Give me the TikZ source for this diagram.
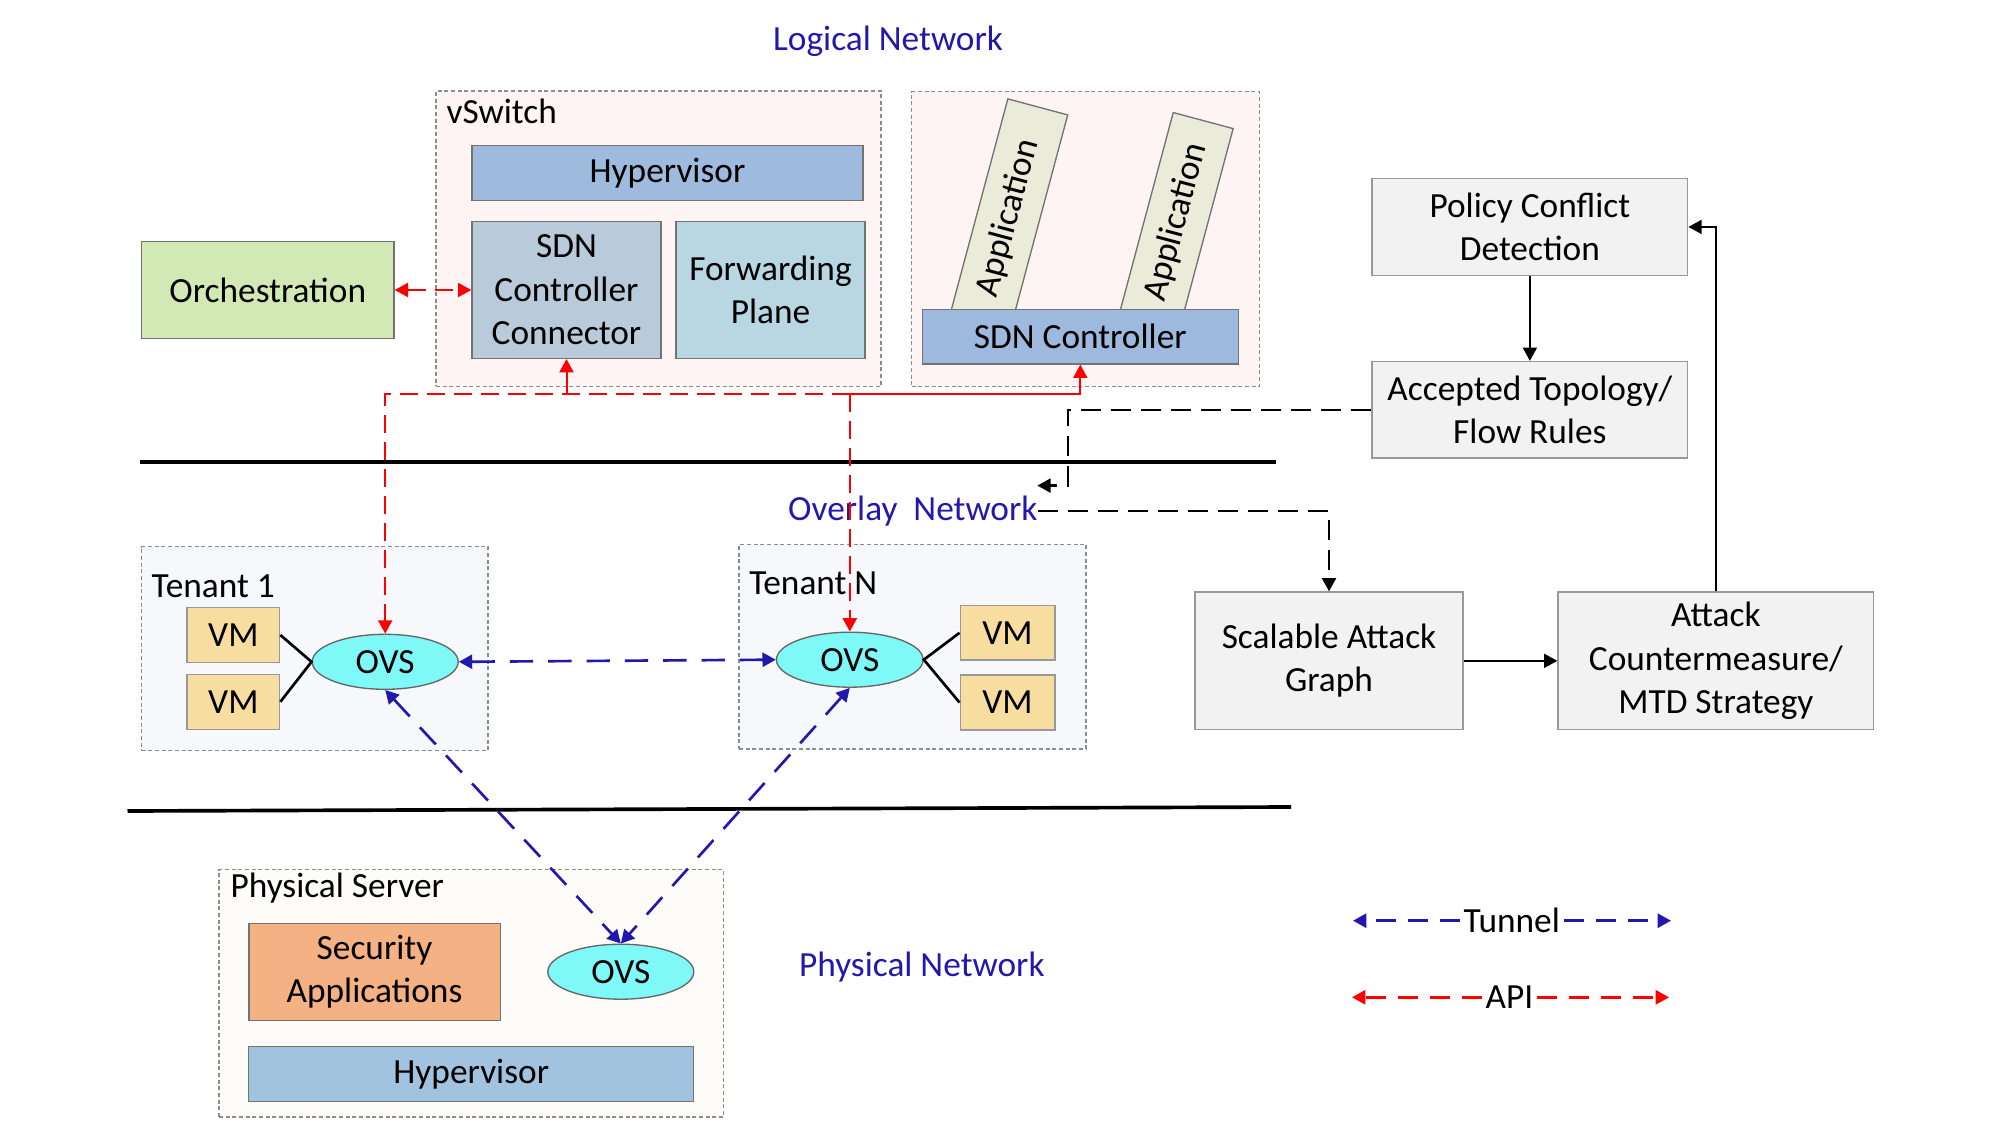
\documentclass[tikz,border=0pt]{standalone}
\usepackage{fontspec}
\setmainfont{Carlito}
\usetikzlibrary{arrows.meta,shapes.geometric,calc}
\definecolor{tblue}{RGB}{34,24,172}
\definecolor{pinkbg}{RGB}{254,244,244}
\definecolor{tenbg}{RGB}{246,248,251}
\definecolor{physbg}{RGB}{253,252,248}
\definecolor{hypblue}{RGB}{158,186,221}
\definecolor{hypblue2}{RGB}{162,195,224}
\definecolor{connblue}{RGB}{185,203,218}
\definecolor{fwdblue}{RGB}{184,215,227}
\definecolor{orchgreen}{RGB}{210,233,182}
\definecolor{ctlblue}{RGB}{157,185,221}
\definecolor{appbg}{RGB}{235,235,217}
\definecolor{grayfill}{RGB}{242,242,242}
\definecolor{vmfill}{RGB}{247,221,159}
\definecolor{secorange}{RGB}{244,177,131}
\definecolor{ovsfill}{RGB}{127,248,248}
\begin{document}
\begin{tikzpicture}[x=0.3pt,y=-0.3pt,
  font=\fontsize{10.6}{13}\selectfont,
  >={Triangle[length=4pt,width=4.2pt]},
  box/.style={draw=black!55, line width=0.4pt, inner sep=0pt, align=center},
  gbox/.style={box, draw=black!40, fill=grayfill},
  vmbox/.style={box, draw=black!40, fill=vmfill},
  sz/.style 2 args={minimum width=#1, minimum height=#2},
  cont/.style={draw=black!45, dash pattern=on 1.2pt off 0.8pt, line width=0.4pt, inner sep=0pt},
  ovsnode/.style={ellipse, draw=black!60, line width=0.4pt, fill=ovsfill, minimum width=43.8pt, minimum height=16.5pt, inner sep=0pt},
  netlabel/.style={text=tblue, inner sep=0pt},
  tun/.style={draw=tblue, line width=0.8pt, dash pattern=on 7pt off 4.5pt},
  api/.style={draw=red, line width=0.6pt, dash pattern=on 5.4pt off 2.7pt},
  apisolid/.style={draw=red, line width=0.6pt},
  blk/.style={draw=black, line width=0.6pt},
  bdash/.style={draw=black, line width=0.7pt, dash pattern=on 6pt off 3pt},
  sepline/.style={draw=black, line width=1.1pt},
  vmline/.style={draw=black, line width=0.8pt},
  leglbl/.style={inner sep=1pt}
]
\useasboundingbox (0,0) rectangle (2000,1125);

% containers
\node[cont, fill=pinkbg, sz={133.5pt}{88.65pt}] (vsw) at (658.5,238.75) {};
\node[cont, fill=pinkbg, sz={104.3pt}{88.5pt}] (ctlbox) at (1085.5,239.2) {};
\node[cont, fill=tenbg, sz={103.95pt}{61.2pt}] (ten1) at (314.75,648.5) {};
\node[cont, fill=tenbg, sz={104.1pt}{61.35pt}] (tenN) at (912.5,646.75) {};
\node[cont, fill=physbg, sz={151.35pt}{74.25pt}] (phys) at (471.25,993.25) {};

% container labels
\node[anchor=west, inner sep=0pt] (vswlbl) at (446,111) {vSwitch};
\node[anchor=west, inner sep=0pt] (ten1lbl) at (151,586) {Tenant 1};
\node[anchor=west, inner sep=0pt] (tenNlbl) at (748.6,583) {Tenant N};
\node[anchor=west, inner sep=0pt] (physlbl) at (229.9,888) {Physical Server};

% network labels
\node[netlabel] (lnet) at (888,41) {Logical Network};
\node[netlabel] (onet) at (912.8,511) {Overlay\hspace{0.45em}Network};
\node[netlabel] (pnet) at (921.8,967) {Physical Network};

% logical network
\node[box, fill=orchgreen, sz={75.75pt}{29pt}] (orch) at (267.75,290) {Orchestration};
\node[box, fill=hypblue, sz={117.3pt}{16.4pt}] (hyp1) at (667.5,173) {Hypervisor};
\node[box, fill=connblue, sz={56.7pt}{41pt}] (conn) at (566.5,290) {SDN\\Controller\\Connector};
\node[box, fill=fwdblue, sz={56.7pt}{41pt}] (fwd) at (770.5,290) {Forwarding\\Plane};

\node[box, fill=appbg, rotate=75, sz={69pt}{18.6pt}] (app1) at (1008,218) {Application};
\node[box, fill=appbg, rotate=75, sz={63pt}{18.6pt}] (app2) at (1176,222) {Application};
\node[box, fill=ctlblue, sz={94.8pt}{16.4pt}] (ctl) at (1080.3,336.65) {SDN Controller};

% right side
\node[gbox, sz={94.7pt}{29.1pt}] (pcd) at (1529.85,226.95) {Policy Conflict\\Detection};
\node[gbox, sz={94.7pt}{28.9pt}] (atf) at (1529.85,409.7) {Accepted Topology/\\Flow Rules};
\node[gbox, sz={80.4pt}{41.3pt}] (sag) at (1329,660.85) {Scalable Attack\\Graph};
\node[gbox, sz={94.7pt}{41.3pt}] (att) at (1715.85,660.85) {Attack\\Countermeasure/\\MTD Strategy};

% tenants
\node[vmbox, sz={27.8pt}{16.4pt}] (vm11) at (233.35,635) {VM};
\node[vmbox, sz={27.8pt}{16.5pt}] (vm12) at (233.35,701.8) {VM};
\node[ovsnode] (ovs1) at (385.2,661.8) {OVS};
\node[vmbox, sz={28.4pt}{16.3pt}] (vmN1) at (1007.5,632.85) {VM};
\node[vmbox, sz={28.4pt}{16.5pt}] (vmN2) at (1007.5,702.5) {VM};
\node[ovsnode, minimum width=44pt] (ovsN) at (849.8,659.7) {OVS};

\draw[vmline] (vm11.east) -- (ovs1.west) -- (vm12.east);
\draw[vmline] (vmN1.west) -- (ovsN.east) -- (vmN2.west);

% physical server
\node[box, fill=secorange, sz={75.4pt}{29.2pt}] (sec) at (374.5,972) {Security\\Applications};
\node[ovsnode] (ovsP) at (620.8,971.7) {OVS};
\node[box, fill=hypblue2, sz={133.5pt}{16.5pt}] (hyp2) at (471.25,1074.2) {Hypervisor};

% separators
\draw[sepline] (140,461.7) -- (1275.5,461.7);
\draw[sepline] (127.5,811) -- (1291,807);

% API connectors
\draw[api, <->] (orch.east) -- (conn.west);
\coordinate (jN) at (ovsN.north |- 0,394);
\coordinate (jC) at (conn.south |- 0,394);
\draw[apisolid, ->] (jC) -- (conn.south);
\draw[apisolid, ->] (jN) -| (ctl.south);
\draw[api, ->] (jN) -| (ovs1.north);
\draw[api, ->] (jN) -- (ovsN.north);

% tunnels
\draw[tun, <->] (ovs1.east) -- (ovsN.west);
\draw[tun, <->] (ovs1.south) -- (ovsP.north);
\draw[tun, <->] (ovsN.south) -- (ovsP.north);

% right side connectors
\draw[blk, ->] (pcd.south) -- (atf.north);
\draw[blk, ->] (sag.east) -- (att.west);
\draw[blk, ->] (att.north) |- (pcd.east);
\coordinate (bend) at (1067.7,485.6);
\coordinate (dtip) at (1037.3,485.6);
\draw[bdash, ->] (atf.west) -| (bend) -- (dtip);
\draw[bdash, ->] (onet.east) -| (sag.north);

% legend
\node[leglbl] (tunlbl) at (1511.7,920.7) {Tunnel};
\coordinate (tunL) at (1353,920.7);
\coordinate (tunR) at (1671,920.7);
\draw[tun, dash pattern=on 6pt off 3.6pt, ->] (tunlbl.west) -- (tunL);
\draw[tun, dash pattern=on 6pt off 3.6pt, ->] (tunlbl.east) -- (tunR);
\node[leglbl] (apilbl) at (1509.5,997.3) {API};
\coordinate (apiL) at (1352,997.3);
\coordinate (apiR) at (1669,997.3);
\draw[api, line width=0.8pt, dash pattern=on 6pt off 3.6pt, ->] (apilbl.west) -- (apiL);
\draw[api, line width=0.8pt, dash pattern=on 6pt off 3.6pt, ->] (apilbl.east) -- (apiR);
\end{tikzpicture}
\end{document}
